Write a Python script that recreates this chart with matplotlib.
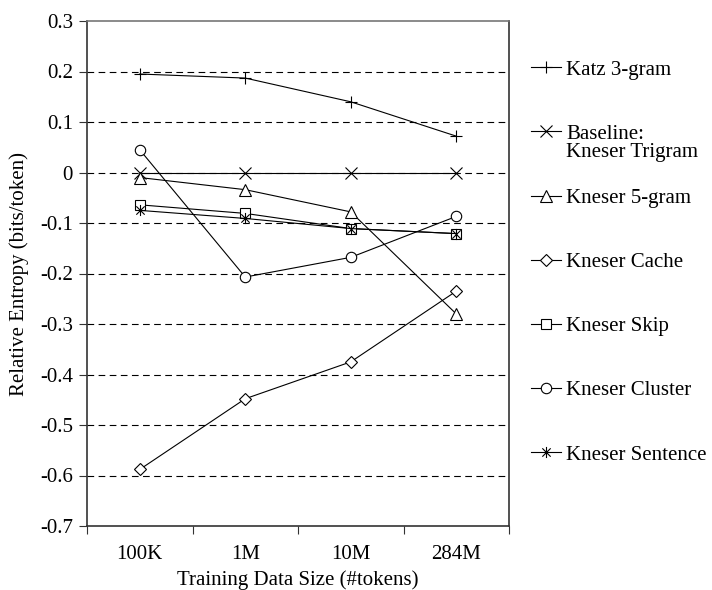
import matplotlib
matplotlib.use("Agg")
import matplotlib.pyplot as plt
from matplotlib.path import Path
import numpy as np

plt.rcParams['font.family'] = ['Liberation Serif', 'DejaVu Serif']

categories = ["100K", "1M", "10M", "284M"]
katz = [0.195, 0.187, 0.140, 0.072]
baseline = [0.0, 0.0, 0.0, 0.0]
kn5 = [-0.010, -0.034, -0.078, -0.280]
cache = [-0.588, -0.448, -0.375, -0.235]
skip = [-0.064, -0.081, -0.111, -0.121]
cluster = [0.045, -0.207, -0.168, -0.087]
sentence = [-0.075, -0.091, -0.111, -0.121]

series = [
    ("Katz 3-gram", katz),
    ("Baseline:", baseline),
    ("Kneser 5-gram", kn5),
    ("Kneser Cache", cache),
    ("Kneser Skip", skip),
    ("Kneser Cluster", cluster),
    ("Kneser Sentence", sentence),
]

star = Path([(0, -1), (0, 1), (-0.75, -0.75), (0.75, 0.75), (-0.75, 0.75), (0.75, -0.75)],
            [Path.MOVETO, Path.LINETO, Path.MOVETO, Path.LINETO, Path.MOVETO, Path.LINETO])
markers = [dict(marker='+', markersize=9),
           dict(marker='x', markersize=8),
           dict(marker='^', markersize=8.5, markerfacecolor='white'),
           dict(marker='D', markersize=6.5, markerfacecolor='white'),
           dict(marker='s', markersize=7.5, markerfacecolor='white'),
           dict(marker='o', markersize=7.5, markerfacecolor='white'),
           dict(marker=star, markersize=8)]

fig = plt.figure(figsize=(7.12, 5.9), dpi=100)
ax = fig.add_axes([87/712, 1 - 526/590, (509-87)/712, (526-21)/590])

x = np.arange(len(categories))
handles = []
for (name, vals), mk in zip(series, markers):
    h, = ax.plot(x, vals, color='black', linewidth=0.8, markeredgecolor='black',
                 markeredgewidth=0.8, label=name, **mk)
    handles.append(h)

ax.set_xlim(-0.5, len(categories) - 0.5)
ax.set_ylim(-0.7, 0.3)
yt = np.round(np.arange(-0.7, 0.31, 0.1), 1)
ax.set_yticks(yt)
ax.set_yticklabels(["%g" % v if abs(v) > 1e-9 else "0" for v in yt])
for v in np.round(np.arange(-0.6, 0.21, 0.1), 1):
    ax.axhline(v, color='black', linewidth=0.8, linestyle=(0, (6, 4)), zorder=0)

ax.set_xticks(x)
ax.set_xticklabels(categories)
ax.set_xticks(np.arange(-0.5, len(categories)), minor=True)
ax.tick_params(axis='x', which='major', length=0, labelsize=15, pad=14)
ax.tick_params(axis='x', which='minor', length=6, width=0.8, direction='out', color='#333333')
ax.tick_params(axis='y', length=6, width=0.8, direction='out', labelsize=15, pad=4, color='#333333')

for s in ['left', 'bottom', 'right']:
    ax.spines[s].set_color('#333333')
    ax.spines[s].set_linewidth(1.2)
ax.spines['top'].set_color('#777777')
ax.spines['top'].set_linewidth(1.2)

ax.set_ylabel("Relative Entropy (bits/token)", fontsize=15, labelpad=8)
ax.set_xlabel("Training Data Size (#tokens)", fontsize=15, labelpad=4)

leg = fig.legend(handles=handles, loc='upper left', bbox_to_anchor=(531/712, 1 - 60/590),
                 frameon=False, fontsize=15, handlelength=1.45, handletextpad=0.25,
                 labelspacing=2.14, borderpad=0, borderaxespad=0)
fig.canvas.draw()
t = leg.get_texts()[1]
bb = t.get_window_extent()
fig.text(bb.x0 / fig.bbox.width, (bb.y0 + 1) / fig.bbox.height, "Kneser Trigram",
         fontsize=15, va='top', ha='left')

fig.savefig("out.png", dpi=100)
